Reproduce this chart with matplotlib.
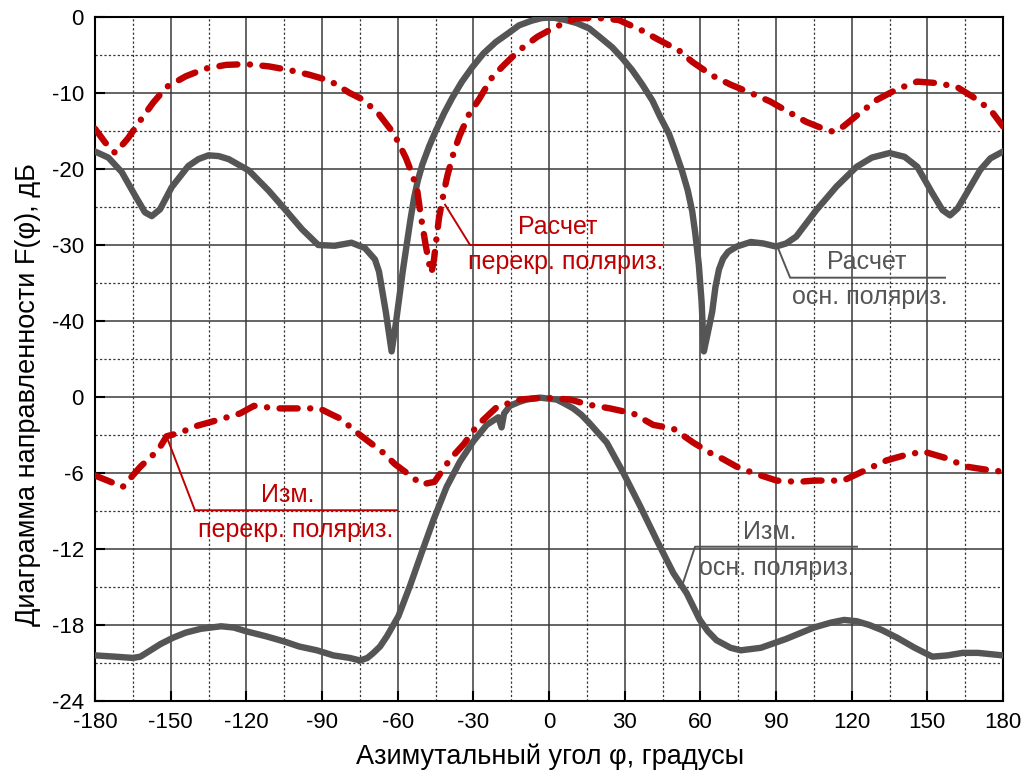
import numpy as np
import matplotlib
matplotlib.use('Agg')
import matplotlib.pyplot as plt

plt.rcParams['font.family'] = ['Liberation Sans', 'DejaVu Sans']
plt.rcParams['axes.unicode_minus'] = False
plt.rcParams['lines.scale_dashes'] = False

# upper panel: calculated, dB (0..-50)
calc_co_ang = [-180, -174.7, -169.4, -164.1, -160.2, -157.5, -154.2, -149.6, -143, -139, -135, -131, -127,
               -119, -111, -104.7, -98, -91.5, -85, -78.3, -73, -69, -67.4, -64.7, -62.4, -60.8, -59.4,
               -58, -56.8, -55, -53.5, -52, -50.2, -47.5, -44.9, -41.5, -38.3, -34.5, -30.4, -26, -21.1,
               -16, -11.9, -7, -3, -1.3, 2, 6.6, 11, 15.9, 20, 25.1, 29, 33, 37, 41, 44, 47.6, 50, 52.8,
               55, 56.8, 58, 59.4, 60.5, 61.4, 63, 64.7, 66, 67.4, 69, 71, 74.5, 80, 85, 90, 94, 98,
               106, 114, 122, 128, 135, 141, 146, 152, 156, 159, 162, 164.5, 171, 175, 180]
calc_co_db = [-17.7, -18.5, -20.4, -23.5, -25.7, -26.2, -25.3, -22.4, -19.6, -18.7, -18.2, -18.3, -18.7,
              -20.2, -22.9, -25.3, -27.9, -30.0, -30.1, -29.7, -30.4, -31.9, -33.5, -38.8, -44.0, -40.5,
              -37.0, -33.5, -30.8, -26.8, -23.8, -21.5, -19.4, -17.0, -15.0, -12.6, -10.6, -8.5, -6.6,
              -4.8, -3.3, -2.1, -1.1, -0.5, -0.15, -0.1, -0.1, -0.4, -0.8, -1.5, -2.6, -4.0, -5.4, -7.0,
              -8.9, -11.0, -13.1, -15.4, -17.6, -20.3, -22.8, -25.6, -28.5, -32.6, -37.5, -44.0, -41.5,
              -38.8, -35.5, -33.2, -31.8, -30.9, -30.2, -29.6, -29.8, -30.2, -29.8, -28.9, -25.4, -22.3,
              -19.7, -18.5, -17.9, -18.4, -19.7, -23.2, -25.4, -26.1, -25.2, -23.8, -20.1, -18.6, -17.7]

calc_cx_ang = [-180, -176, -172, -167, -162, -157, -151.6, -144, -136.4, -128, -120, -111, -102.7, -95,
               -86.8, -79, -73.6, -67.4, -61.4, -56.8, -54.2, -52.2, -50.9, -48.9, -47.5, -46.6, -45.6,
               -44.6, -43.6, -41.6, -40.3, -37.6, -35.4, -31.7, -27.7, -22.5, -17.8, -11.9, -4.6, 2.6,
               10.6, 18.5, 27.7, 37, 42.9, 51.5, 56.8, 64.7, 72, 80, 87.6, 95, 102, 108, 112.7, 116.7,
               123, 130, 138, 146, 154, 161.7, 168, 175, 180]
calc_cx_db = [-14.7, -16.5, -17.9, -16.0, -13.6, -11.3, -9.2, -7.8, -6.8, -6.3, -6.2, -6.5, -7.0, -7.6,
              -8.4, -10.0, -10.9, -12.8, -15.4, -18.5, -20.7, -22.9, -26.0, -30.0, -32.5, -33.7, -31.9,
              -29.1, -26.4, -22.9, -20.9, -17.6, -15.6, -12.8, -10.8, -7.9, -6.3, -4.4, -2.6, -1.3,
              -0.2, -0.1, -0.4, -1.8, -2.9, -4.4, -5.9, -7.7, -8.9, -10.0, -11.1, -12.5, -13.8, -14.6,
              -15.1, -14.4, -12.7, -10.9, -9.5, -8.5, -8.7, -9.2, -10.5, -12.2, -14.4]

# lower panel: measured, dB (0..-24)
meas_co_ang = [-180, -172, -165, -162, -158, -154, -149, -144, -138, -130, -125, -120, -112, -105, -99,
               -92, -85.5, -79, -74.9, -72, -69.6, -67, -64.3, -59.7, -55.1, -50.5, -45.8, -40.6, -35.3,
               -30, -24.7, -20.1, -18.8, -17.8, -15.5, -12, -8.9, -3.6, 3, 6, 9.6, 12.8, 16.2, 22.9,
               29.5, 36.1, 42.7, 49.3, 54.6, 59.8, 63, 66.4, 72, 76, 84, 94, 105, 112, 117, 122, 127,
               132, 138, 145, 152, 158, 164, 170, 175, 180]
meas_co_db = [-20.4, -20.5, -20.6, -20.5, -20.0, -19.5, -19.0, -18.6, -18.3, -18.1, -18.2, -18.5, -18.9,
              -19.3, -19.7, -20.0, -20.4, -20.6, -20.8, -20.6, -20.2, -19.7, -18.9, -17.3, -14.9, -12.3,
              -9.7, -7.1, -5.1, -3.5, -2.2, -1.6, -2.4, -1.3, -0.7, -0.4, -0.2, -0.05, -0.2, -0.5,
              -0.9, -1.4, -2.1, -3.6, -6.0, -8.6, -11.3, -13.9, -15.5, -17.6, -18.5, -19.2, -19.8,
              -20.0, -19.8, -19.1, -18.2, -17.8, -17.6, -17.7, -18.0, -18.4, -19.0, -19.8, -20.5,
              -20.4, -20.2, -20.2, -20.3, -20.4]

meas_cx_ang = [-180, -175, -169, -162, -155, -151.6, -146, -140, -131, -122.5, -117, -108, -99, -91, -87,
               -82.8, -74.9, -65.7, -61.1, -55, -50.5, -45.4, -39.2, -33.7, -28.7, -20.7, -11.5, -2.2,
               8.3, 15.6, 24.2, 33.4, 41.3, 49.3, 57.2, 63.8, 69, 74.4, 81, 90.3, 98.9, 105, 110, 116.7,
               122, 127.3, 133.9, 141, 148.4, 157, 165.6, 172, 180]
meas_cx_db = [-6.2, -6.6, -7.1, -5.5, -4.2, -3.1, -2.8, -2.3, -1.8, -1.3, -0.7, -0.9, -0.9, -0.9, -1.3,
              -1.7, -3.0, -4.4, -5.3, -6.2, -6.9, -6.7, -4.9, -3.7, -2.3, -0.8, -0.2, -0.05, -0.2, -0.6,
              -0.9, -1.3, -2.2, -2.5, -3.6, -4.4, -4.9, -5.5, -6.0, -6.6, -6.7, -6.6, -6.6, -6.6, -6.1,
              -5.6, -5.0, -4.6, -4.3, -4.8, -5.5, -5.7, -5.9]

xticks = list(range(-180, 181, 30))
ytick_labels = ['0', '-10', '-20', '-30', '-40', '0', '-6', '-12', '-18', '-24']

red = '#c00000'
gray = '#555555'


def upper(db):
    return np.array(db) / 10.0


def lower(db):
    return -5 + np.array(db) / 6.0


fig = plt.figure(figsize=(10.25, 7.78), dpi=100)
ax = fig.add_axes([95 / 1025, 1 - 701 / 778, 908 / 1025, 684 / 778])

dash_dot = (13, 9, 0.1, 9)
lw = 4.6
ax.plot(calc_co_ang, upper(calc_co_db), color=gray, lw=lw, solid_capstyle='round',
        solid_joinstyle='round', zorder=3)
ax.plot(calc_cx_ang, upper(calc_cx_db), color=red, lw=lw, dashes=dash_dot,
        dash_capstyle='round', dash_joinstyle='round', zorder=4)
ax.plot(meas_co_ang, lower(meas_co_db), color=gray, lw=lw, solid_capstyle='round',
        solid_joinstyle='round', zorder=3)
ax.plot(meas_cx_ang, lower(meas_cx_db), color=red, lw=lw, dashes=dash_dot,
        dash_capstyle='round', dash_joinstyle='round', zorder=4)

ax.set_xlim(-180, 180)
ax.set_ylim(-9, 0)
ax.set_xticks(xticks)
ax.set_xticklabels([str(v) for v in xticks])
ax.set_xticks(np.arange(-165, 180, 30), minor=True)
ax.set_yticks(np.arange(0, -10, -1))
ax.set_yticklabels(ytick_labels)
ax.set_yticks(np.arange(-0.5, -9, -1), minor=True)
ax.tick_params(axis='both', which='major', direction='in', length=7, width=1.5,
               labelsize=16, pad=8, colors='black')
ax.tick_params(axis='both', which='minor', direction='in', length=0)
ax.grid(which='major', color='#3a3a3a', lw=1.1)
ax.grid(which='minor', color='#333333', lw=0.9, linestyle=(0, (1.6, 1.6)))
for s in ax.spines.values():
    s.set_linewidth(1.5)
    s.set_color('black')

# leader lines and labels
fs = 18
ax.plot([-41.2, -31.3, 44.8], [-2.47, -3.0, -3.0], color=red, lw=1.4, zorder=5)
ax.text(3.5, -2.76, 'Расчет', color=red, fontsize=fs, ha='center', va='center', zorder=6)
ax.text(6.8, -3.23, 'перекр. поляриз.', color=red, fontsize=fs, ha='center', va='center', zorder=6)

ax.plot([90.8, 95.6, 157], [-3.04, -3.43, -3.43], color=gray, lw=1.4, zorder=5)
ax.text(126, -3.22, 'Расчет', color=gray, fontsize=fs, ha='center', va='center', zorder=6)
ax.text(127.3, -3.68, 'осн. поляриз.', color=gray, fontsize=fs, ha='center', va='center', zorder=6)

ax.plot([-151.5, -140.4, -60.3], [-5.53, -6.49, -6.49], color=red, lw=1.4, zorder=5)
ax.text(-103.5, -6.29, 'Изм.', color=red, fontsize=fs, ha='center', va='center', zorder=6)
ax.text(-100.3, -6.75, 'перекр. поляриз.', color=red, fontsize=fs, ha='center', va='center', zorder=6)

ax.plot([53.1, 57.9, 122.1], [-7.45, -6.97, -6.97], color=gray, lw=1.4, zorder=5)
ax.text(87.6, -6.78, 'Изм.', color=gray, fontsize=fs, ha='center', va='center', zorder=6)
ax.text(90.4, -7.25, 'осн. поляриз.', color=gray, fontsize=fs, ha='center', va='center', zorder=6)

fig.text(550 / 1025, 1 - 757 / 778, 'Азимутальный угол φ, градусы', fontsize=19.5,
         ha='center', va='center')
fig.text(28 / 1025, 1 - 395 / 778, 'Диаграмма направленности F(φ), дБ', fontsize=19.5,
         ha='center', va='center', rotation=90)

fig.savefig('out.png', dpi=100)
